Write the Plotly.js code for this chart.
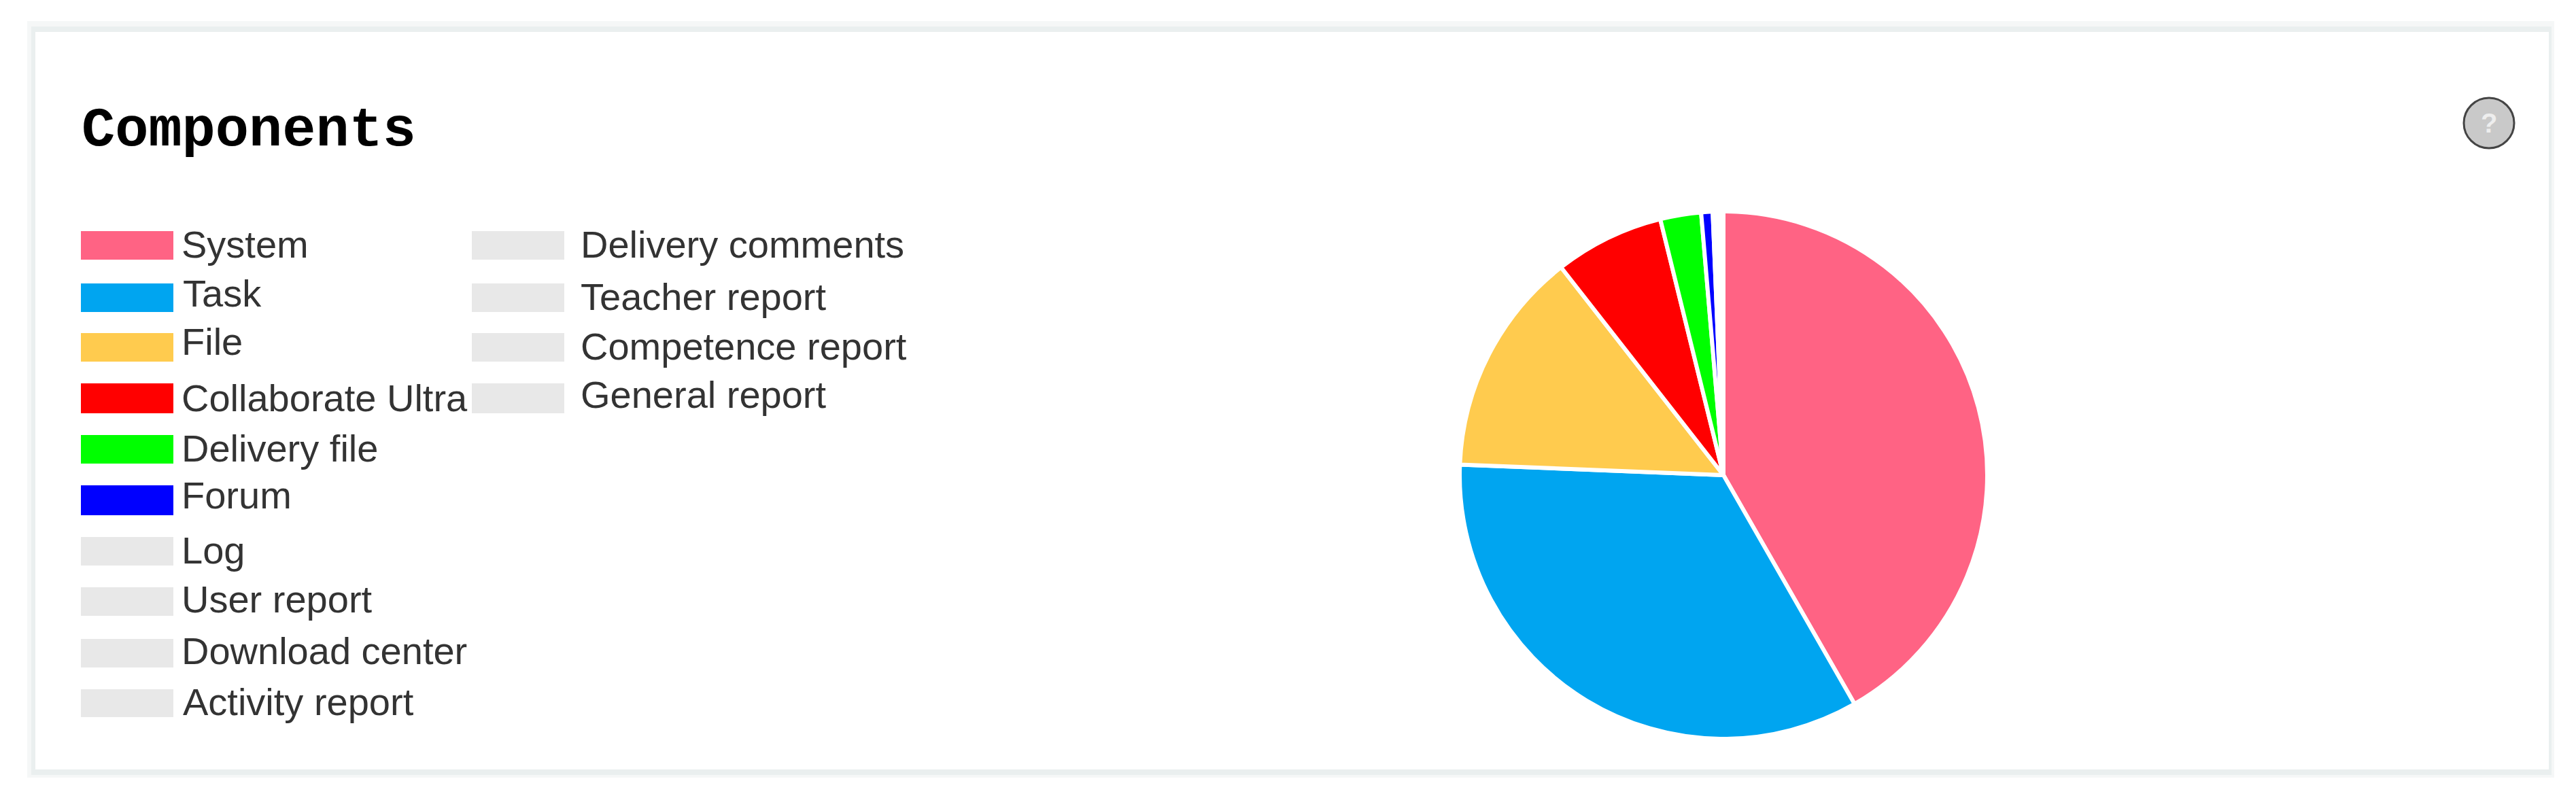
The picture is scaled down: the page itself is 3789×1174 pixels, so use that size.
<!DOCTYPE html>
<html>
<head>
<meta charset="utf-8">
<script src="https://cdn.plot.ly/plotly-3.0.1.min.js"></script>
<style>
  html, body { margin: 0; padding: 0; background: #fff; overflow: hidden; }
  #chart { width: 3789px; height: 1174px; }
</style>
</head>
<body>
<div id="chart"></div>
<script>
var CHART_TITLE = "Components";

// order of the slices, clockwise from 12 o'clock
var components = [
  "System", "Task", "File", "Collaborate Ultra", "Delivery file", "Forum",
  "Log", "User report", "Download center", "Activity report",
  "Delivery comments", "Teacher report", "Competence report", "General report"
];
var shares = [41.7, 33.9, 13.8, 6.7, 2.5, 0.7, 0.2, 0.1, 0.1, 0.05, 0.05, 0.05, 0.05, 0.05];
var sliceColors = [
  "#ff6384", "#00a5f0", "#ffcb4e", "#ff0000", "#00ff00", "#0000ff",
  "#e8e8e8", "#e8e8e8", "#e8e8e8", "#e8e8e8",
  "#e8e8e8", "#e8e8e8", "#e8e8e8", "#e8e8e8"
];

// legend rows are not evenly spaced in the original
var swatchTops = [340, 417, 490, 564, 640, 714, 790, 864, 940, 1014, 340, 417, 490, 564];
var swatchBottoms = [382, 459, 532, 608, 682, 758, 832, 906, 982, 1055, 382, 459, 532, 608];
var labelBaselines = [379, 451, 522, 605, 679, 748, 829, 901, 977, 1052, 379, 456, 529, 600];
var labelLefts = [265, 267, 265, 265, 265, 265, 265, 265, 265, 267, 852, 852, 852, 852];
var FIRST_COLUMN_ROWS = 10;

var WIDTH = 3789;
var HEIGHT = 1174;
var LABEL_SIZE = 56;

var px = function(x) { return x / WIDTH; };
var py = function(y) { return 1 - y / HEIGHT; };

var paperRect = function(x0, y0, x1, y1, color) {
  return {
    type: "rect", layer: "below", xref: "paper", yref: "paper",
    x0: px(x0), x1: px(x1), y0: py(y0), y1: py(y1),
    fillcolor: color, line: { width: 0 }
  };
};

var shapes = [
  paperRect(40, 31, 3757, 1144, "#f5f7f7"),
  paperRect(46, 39, 3753, 1140, "#eaefef"),
  paperRect(52, 47, 3749, 1132, "#ffffff"),
  {
    type: "circle", xref: "paper", yref: "paper",
    x0: px(3624), x1: px(3698), y0: py(144), y1: py(218),
    fillcolor: "#c9c9c9", line: { color: "#444444", width: 3 }
  }
];

var annotations = [
  {
    text: CHART_TITLE, xref: "paper", yref: "paper", showarrow: false,
    x: px(118), y: py(241), xanchor: "left", yanchor: "bottom",
    font: { family: "Liberation Mono", size: 82, color: "#000000", weight: "bold" }
  },
  {
    text: "?", xref: "paper", yref: "paper", showarrow: false,
    x: px(3661), y: py(181), xanchor: "center", yanchor: "middle",
    font: { family: "Liberation Sans", size: 40, color: "#eeeeee", weight: "bold" }
  }
];

components.forEach(function(name, i) {
  var left = i < FIRST_COLUMN_ROWS ? 119 : 694;
  shapes.push(paperRect(left, swatchTops[i], left + 136, swatchBottoms[i], sliceColors[i]));
  annotations.push({
    text: name, xref: "paper", yref: "paper", showarrow: false,
    x: px(labelLefts[i]), y: py(labelBaselines[i] + 14), xanchor: "left", yanchor: "bottom",
    font: { family: "Liberation Sans", size: LABEL_SIZE, color: "#333333" }
  });
});

var data = [{
  type: "pie",
  labels: components,
  values: shares,
  sort: false,
  direction: "clockwise",
  rotation: 0,
  textinfo: "none",
  marker: { colors: sliceColors, line: { color: "#ffffff", width: 6 } },
  domain: { x: [px(2147), px(2923)], y: [py(1087), py(311)] }
}];

var layout = {
  width: WIDTH,
  height: HEIGHT,
  margin: { l: 0, r: 0, t: 0, b: 0 },
  paper_bgcolor: "#ffffff",
  showlegend: false,
  shapes: shapes,
  annotations: annotations
};

Plotly.newPlot("chart", data, layout, { displayModeBar: false, displaylogo: false });
</script>
</body>
</html>
